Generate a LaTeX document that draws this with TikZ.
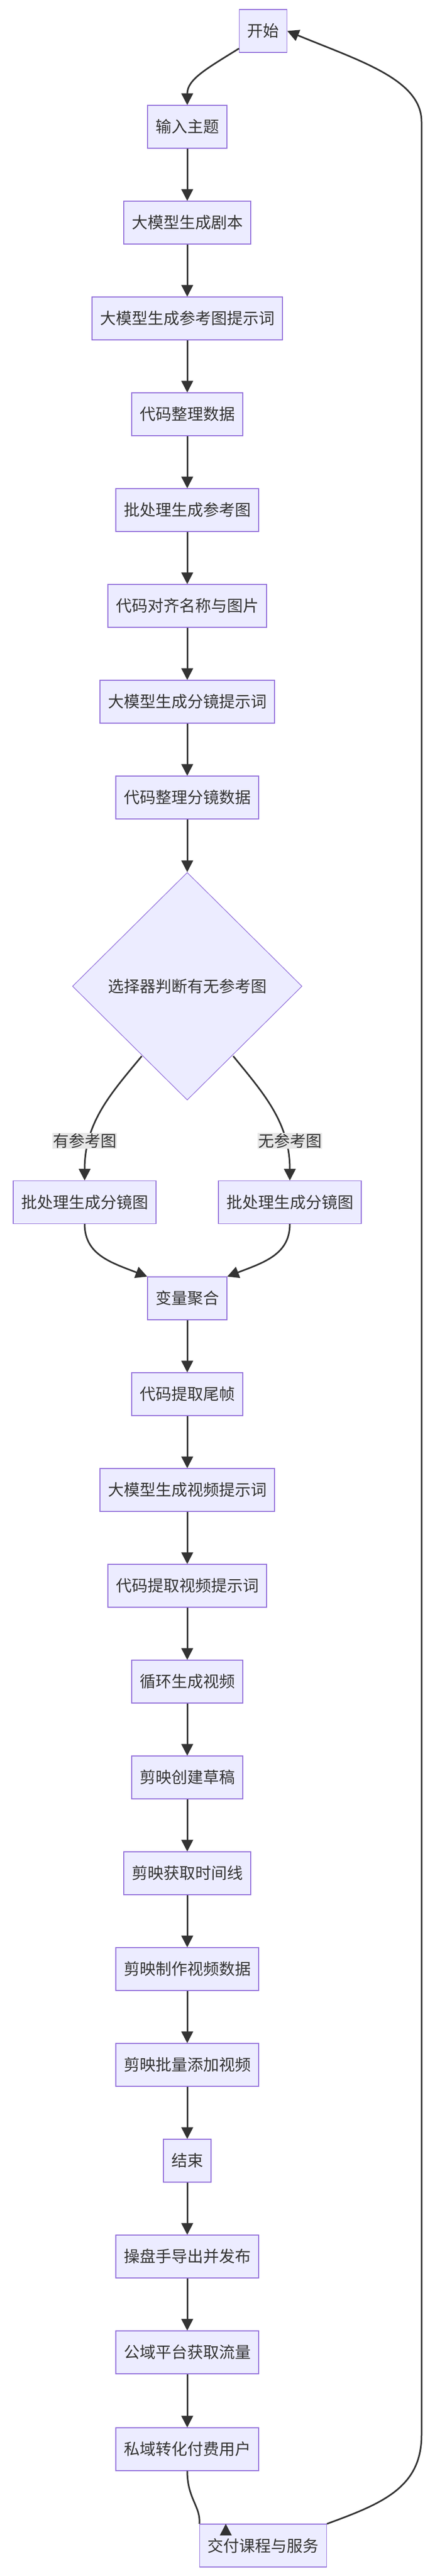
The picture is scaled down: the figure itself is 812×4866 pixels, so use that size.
\documentclass[tikz,border=0pt]{standalone}
\usepackage{fontspec}
\setmainfont{Noto Sans CJK SC}
\usetikzlibrary{arrows.meta,shapes.geometric}
\definecolor{boxfill}{HTML}{ECECFF}
\definecolor{boxline}{HTML}{9370DB}
\definecolor{edge}{HTML}{333333}
\definecolor{lbl}{HTML}{E8E8E8}
\begin{document}
\begin{tikzpicture}[x=1pt,y=-1pt,
  box/.style={draw=boxline,fill=boxfill,line width=1.2pt,minimum height=81pt,inner xsep=15pt,font=\fontsize{30}{36}\selectfont,text=edge},
  dec/.style={diamond,draw=boxline,fill=boxfill,line width=1.2pt,minimum width=434pt,minimum height=430pt,inner sep=0pt,font=\fontsize{30}{36}\selectfont,text=edge},
  lab/.style={fill=lbl,inner sep=1pt,font=\fontsize{30}{36}\selectfont,text=edge},
  ar/.style={draw=edge,line width=3pt,-{Triangle[length=22pt,width=22pt]}},
  ln/.style={draw=edge,line width=3pt}]
\useasboundingbox (0,0) rectangle (812,4866);
\node[box] (n0) at (497.5,58.5) {开始};
\node[box] (n1) at (354,239.5) {输入主题};
\node[box] (n2) at (354,420.5) {大模型生成剧本};
\node[box] (n3) at (354,601.5) {大模型生成参考图提示词};
\node[box] (n4) at (354,782.5) {代码整理数据};
\node[box] (n5) at (354,963.5) {批处理生成参考图};
\node[box] (n6) at (354,1144.5) {代码对齐名称与图片};
\node[box] (n7) at (354,1325.5) {大模型生成分镜提示词};
\node[box] (n8) at (354,1506.5) {代码整理分镜数据};
\node[dec] (d) at (354,1863) {选择器判断有无参考图};
\node[box] (bl) at (160,2271) {批处理生成分镜图};
\node[box] (br) at (548,2271) {批处理生成分镜图};
\node[box] (m) at (354,2452.5) {变量聚合};
\node[box] (p1) at (354,2633.5) {代码提取尾帧};
\node[box] (p2) at (354,2814.5) {大模型生成视频提示词};
\node[box] (p3) at (354,2995.5) {代码提取视频提示词};
\node[box] (p4) at (354,3176.5) {循环生成视频};
\node[box] (p5) at (354,3357.5) {剪映创建草稿};
\node[box] (p6) at (354,3538.5) {剪映获取时间线};
\node[box] (p7) at (354,3719.5) {剪映制作视频数据};
\node[box] (p8) at (354,3900.5) {剪映批量添加视频};
\node[box] (p9) at (354,4081.5) {结束};
\node[box] (p10) at (354,4262.5) {操盘手导出并发布};
\node[box] (p11) at (354,4443.5) {公域平台获取流量};
\node[box] (p12) at (354,4626.5) {私域转化付费用户};
\node[box] (p13) at (497.5,4808.5) {交付课程与服务};
\draw[ar] (n0.south west) ++(0,-8) .. controls (390,130) and (354,150) .. (n1.north);
\foreach \a/\b in {n1/n2,n2/n3,n3/n4,n4/n5,n5/n6,n6/n7,n7/n8,n8/d,m/p1,p1/p2,p2/p3,p3/p4,p4/p5,p5/p6,p6/p7,p7/p8,p8/p9,p9/p10,p10/p11,p11/p12}
  \draw[ar] (\a) -- (\b);
\draw[ar] (268,1995) .. controls (210,2065) and (160,2120) .. (bl.north);
\draw[ar] (441,1995) .. controls (498,2065) and (548,2120) .. (br.north);
\node[lab] (l1) at (160,2155) {有参考图};
\node[lab] (l2) at (548,2155) {无参考图};
\draw[ar] (bl.south) .. controls (160,2370) and (210,2385) .. (m.north west);
\draw[ar] (br.south) .. controls (548,2370) and (498,2385) .. (m.north east);
\draw[ar] (p12.south) .. controls (354,4720) and (380,4735) .. (p13.north west) ++(50,0);
\draw[ar] (p13.north east) .. controls (720,4730) and (797,4700) .. (797,4600) -- (797,230) .. controls (797,150) and (680,115) .. (n0.east);
\end{tikzpicture}
\end{document}
